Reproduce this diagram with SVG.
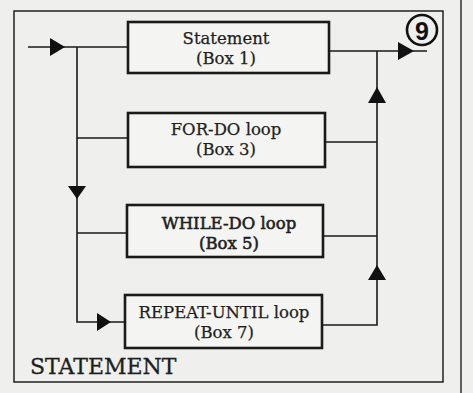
<svg xmlns="http://www.w3.org/2000/svg" width="473" height="393" viewBox="0 0 473 393">
<style>
.box{fill:#f4f4f2;stroke:#1a1a1a;stroke-width:2.6}
.ln{fill:none;stroke:#1a1a1a;stroke-width:1.6}
.ah{fill:#111}
.t{font-family:"DejaVu Serif",serif;font-size:16.5px;fill:#1e1e1e;text-anchor:middle;stroke:#1e1e1e;stroke-width:0.25}
.b{stroke-width:0.55}
</style>
<rect width="473" height="393" fill="#efefed"/>
<line x1="461" y1="0" x2="461" y2="393" stroke="#222" stroke-width="1.4"/>
<rect x="14" y="11" width="429" height="371" fill="none" stroke="#222" stroke-width="1.5"/>
<g id="connectors">
<path class="ln" d="M28,47 H128 M77,47 V322 H125 M77,138 H127 M77,233 H126"/>
<path class="ln" d="M329,51 H427 M377,51 V325 H322 M325,142 H377 M323,236 H377"/>
<polygon class="ah" points="65,47 50,38 50,56"/>
<polygon class="ah" points="77,199 68,186 86,186"/>
<polygon class="ah" points="111,322 97,313 97,331"/>
<polygon class="ah" points="414,51 398,42 398,60"/>
<polygon class="ah" points="377,87 368,103 386,103"/>
<polygon class="ah" points="377,265 368,280 386,280"/>
</g>
<g id="box1">
<rect class="box" x="128" y="22" width="201" height="51"/>
<text class="t" x="226" y="43.5">Statement</text>
<text class="t" x="226" y="63.5">(Box 1)</text>
</g>
<g id="box3">
<rect class="box" x="128" y="113" width="197" height="54"/>
<text class="t" x="226" y="135">FOR-DO loop</text>
<text class="t" x="226" y="155">(Box 3)</text>
</g>
<g id="box5">
<rect class="box" x="127" y="205" width="196" height="52"/>
<text class="t b" x="229" y="228.5">WHILE-DO loop</text>
<text class="t b" x="229" y="248.5">(Box 5)</text>
</g>
<g id="box7">
<rect class="box" x="125" y="295" width="197" height="53"/>
<text class="t" x="224" y="318">REPEAT-UNTIL loop</text>
<text class="t" x="224" y="338">(Box 7)</text>
</g>
<g id="label9">
<circle cx="422" cy="30" r="15" fill="none" stroke="#111" stroke-width="2.6"/>
<text x="422" y="39.5" font-family="Liberation Sans,sans-serif" font-weight="bold" font-size="25" fill="#111" text-anchor="middle">9</text>
</g>
<text x="30" y="374" font-family="DejaVu Serif,serif" font-size="22" fill="#1e1e1e" stroke="#1e1e1e" stroke-width="0.3">STATEMENT</text>
</svg>
